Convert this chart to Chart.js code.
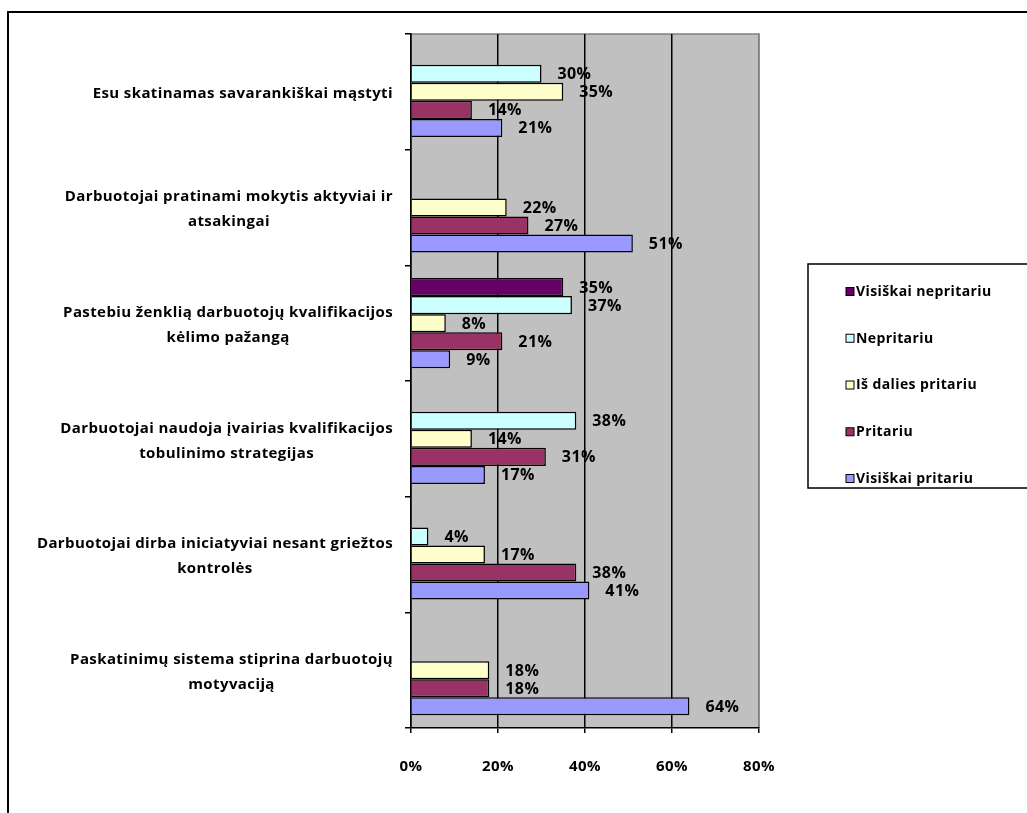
<!DOCTYPE html>
<html lang="lt">
<head>
    <meta charset="UTF-8">
    <title>Chart</title>
    <script src="https://cdn.jsdelivr.net/npm/chart.js"></script>
    <style>
        body { margin: 0; background: #fff; }
    </style>
</head>
<body>
    <canvas id="myChart" width="1027" height="813"></canvas>
    <script>
        // kategorijos (eilutės kaip Excel'yje)
        const categories = [
            ['Esu skatinamas savarankiškai mąstyti'],
            ['Darbuotojai pratinami mokytis aktyviai ir', 'atsakingai'],
            ['Pastebiu ženklią darbuotojų kvalifikacijos', 'kėlimo pažangą'],
            ['Darbuotojai naudoja įvairias kvalifikacijos', 'tobulinimo strategijas'],
            ['Darbuotojai dirba iniciatyviai nesant griežtos', 'kontrolės'],
            ['Paskatinimų sistema stiprina darbuotojų', 'motyvaciją']
        ];
        const seriesNames = ['Visiškai nepritariu', 'Nepritariu', 'Iš dalies pritariu', 'Pritariu', 'Visiškai pritariu'];
        const seriesColors = ['#660066', '#CCFFFF', '#FFFFCC', '#993366', '#9999FF'];

        const visiskaiNepritariu = [null, null, 35, null, null, null];
        const nepritariu = [30, null, 37, 38, 4, null];
        const isDaliesPritariu = [35, 22, 8, 14, 17, 18];
        const pritariu = [14, 27, 21, 31, 38, 18];
        const visiskaiPritariu = [21, 51, 9, 17, 41, 64];

        const xTicks = [0, 20, 40, 60, 80];

        const allSeries = [visiskaiNepritariu, nepritariu, isDaliesPritariu, pritariu, visiskaiPritariu];
        const datasets = allSeries.map(function(vals, i){
            return {
                label: seriesNames[i],
                data: vals,
                backgroundColor: seriesColors[i],
                borderColor: '#000',
                borderWidth: 1.5,
                categoryPercentage: 0.78,
                barPercentage: 1
            };
        });

        const FONT = '"Open Sans", Lato, sans-serif';
        const SPACING = '0.4px';

        // fonas, rėmelis, pilkas braižymo plotas
        const backgroundPlugin = {
            id: 'bg',
            beforeDraw(chart) {
                const c = chart.ctx;
                const a = chart.chartArea;
                c.letterSpacing = SPACING;
                c.save();
                c.fillStyle = '#fff';
                c.fillRect(0, 0, chart.width, chart.height);
                c.strokeStyle = '#000';
                c.lineWidth = 2;
                c.beginPath();
                c.moveTo(8, chart.height + 5);
                c.lineTo(8, 12);
                c.lineTo(chart.width + 5, 12);
                c.stroke();
                c.fillStyle = '#C0C0C0';
                c.fillRect(a.left, a.top, a.right - a.left, a.bottom - a.top);
                c.strokeStyle = '#808080';
                c.lineWidth = 1.5;
                c.beginPath();
                c.moveTo(a.left, a.top);
                c.lineTo(a.right, a.top);
                c.lineTo(a.right, a.bottom);
                c.stroke();
                c.restore();
            }
        };

        // kategorijų pavadinimai (eilutės centruotos bloke)
        const catLabelPlugin = {
            id: 'catLabels',
            afterDraw(chart) {
                const c = chart.ctx;
                const y = chart.scales.y;
                c.save();
                c.font = 'bold 15px ' + FONT;
                c.fillStyle = '#000';
                c.textAlign = 'center';
                c.textBaseline = 'middle';
                categories.forEach(function(lines, i){
                    const cy = y.getPixelForValue(i);
                    let w = 0;
                    lines.forEach(function(l){ w = Math.max(w, c.measureText(l).width); });
                    const cx = 393 - w / 2;
                    const lh = 25;
                    const y0 = cy + 2 - (lines.length - 1) * lh / 2;
                    lines.forEach(function(l, k){
                        c.fillText(l, cx, y0 + k * lh);
                    });
                });
                c.restore();
            }
        };

        // reikšmės prie stulpelių
        const valueLabelPlugin = {
            id: 'valueLabels',
            afterDatasetsDraw(chart) {
                const c = chart.ctx;
                c.save();
                c.font = 'bold 16px ' + FONT;
                c.fillStyle = '#000';
                c.textAlign = 'left';
                c.textBaseline = 'middle';
                chart.data.datasets.forEach(function(ds, di){
                    const meta = chart.getDatasetMeta(di);
                    meta.data.forEach(function(el, i){
                        const v = ds.data[i];
                        if (v === null) return;
                        c.fillText(v + '%', el.x + 16, el.y + 1);
                    });
                });
                c.restore();
            }
        };

        // legenda su rėmeliu
        const legendPlugin = {
            id: 'boxLegend',
            afterDraw(chart) {
                const c = chart.ctx;
                c.save();
                c.strokeStyle = '#000';
                c.lineWidth = 1.5;
                c.strokeRect(808, 264, 240, 224);
                c.font = 'bold 14px ' + FONT;
                c.textAlign = 'left';
                c.textBaseline = 'middle';
                chart.data.datasets.forEach(function(ds, i){
                    const yy = 292 + i * 46.75;
                    c.fillStyle = ds.backgroundColor;
                    c.fillRect(846, yy - 4.5, 8, 8);
                    c.lineWidth = 1;
                    c.strokeRect(846, yy - 4.5, 8, 8);
                    c.fillStyle = '#000';
                    c.fillText(ds.label, 856, yy);
                });
                c.restore();
            }
        };

        const ctx = document.getElementById('myChart');
        new Chart(ctx, {
            type: 'bar',
            data: {
                labels: categories,
                datasets: datasets
            },
            options: {
                indexAxis: 'y',
                responsive: false,
                animation: false,
                layout: { padding: { left: 405, right: 268, top: 34, bottom: 0 } },
                plugins: {
                    legend: { display: false },
                    tooltip: { enabled: false }
                },
                scales: {
                    x: {
                        min: 0,
                        max: 80,
                        afterBuildTicks: function(scale){
                            scale.ticks = xTicks.map(function(v){ return { value: v }; });
                        },
                        afterFit: function(scale){ scale.height = 85; },
                        ticks: {
                            callback: function(v){ return v + '%'; },
                            color: '#000',
                            padding: 25,
                            font: { family: FONT, size: 15, weight: 'bold' }
                        },
                        grid: {
                            color: function(c){ return c.tick && c.tick.value === 80 ? '#808080' : '#000'; },
                            lineWidth: 1.5,
                            tickColor: '#000',
                            tickLength: 5
                        },
                        border: { color: '#000', width: 1.5 }
                    },
                    y: {
                        afterFit: function(scale){ scale.width = 6; },
                        ticks: { display: false },
                        grid: {
                            drawOnChartArea: false,
                            tickLength: 6,
                            color: '#000',
                            lineWidth: 1.5,
                            offset: true
                        },
                        border: { color: '#000', width: 1.5 }
                    }
                }
            },
            plugins: [backgroundPlugin, catLabelPlugin, valueLabelPlugin, legendPlugin]
        });
    </script>
</body>
</html>
